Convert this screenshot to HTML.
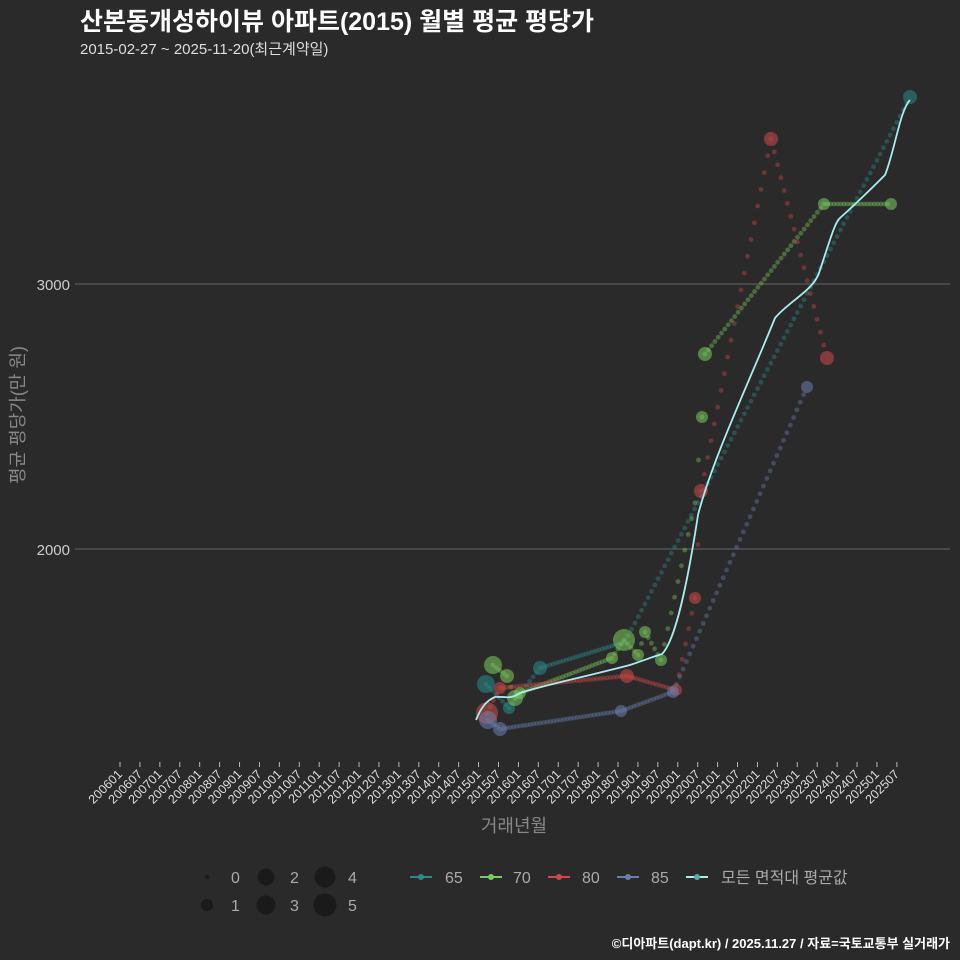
<!DOCTYPE html>
<html><head><meta charset="utf-8"><style>
body{margin:0;background:#2a2a2b;width:960px;height:960px;overflow:hidden;font-family:"Liberation Sans","Noto Sans CJK KR",sans-serif}
</style></head><body>
<svg id="s" width="960" height="960" xmlns="http://www.w3.org/2000/svg" style="display:block;font-family:'Liberation Sans','Noto Sans CJK KR',sans-serif">
<rect width="960" height="960" fill="#2a2a2b"/>
<text x="80" y="30" font-size="25" font-weight="bold" fill="#fff">산본동개성하이뷰 아파트(2015) 월별 평균 평당가</text>
<text x="80" y="54" font-size="15" fill="#ddd">2015-02-27 ~ 2025-11-20(최근계약일)</text>
<line x1="75" y1="284" x2="950" y2="284" stroke="#666" stroke-width="1"/>
<line x1="75" y1="549" x2="950" y2="549" stroke="#666" stroke-width="1"/>
<text x="70" y="290" font-size="15" fill="#ccc" text-anchor="end">3000</text>
<text x="70" y="555" font-size="15" fill="#ccc" text-anchor="end">2000</text>
<text transform="translate(24,415) rotate(-90)" font-size="18" fill="#888" text-anchor="middle">평균 평당가(만 원)</text>
<text x="514" y="832" font-size="18" fill="#888" text-anchor="middle">거래년월</text>
<g id="ticks"></g>
<g id="series"></g>
<g id="legend" font-size="16" fill="#aaa">
<circle cx="207" cy="877" r="2" fill="#1a1a1a"/><text x="231" y="883">0</text>
<circle cx="207" cy="905" r="6" fill="#1a1a1a"/><text x="231" y="911">1</text>
<circle cx="266" cy="877" r="8.5" fill="#1a1a1a"/><text x="290" y="883">2</text>
<circle cx="266" cy="905" r="9.5" fill="#1a1a1a"/><text x="290" y="911">3</text>
<circle cx="325" cy="877" r="10.5" fill="#1a1a1a"/><text x="348" y="883">4</text>
<circle cx="325" cy="905" r="11.5" fill="#1a1a1a"/><text x="348" y="911">5</text>
<line x1="410" y1="877" x2="432" y2="877" stroke="#2a8a8a" stroke-width="2"/><circle cx="421" cy="877" r="3" fill="#2a8a8a"/><text x="445" y="883">65</text>
<line x1="480" y1="877" x2="502" y2="877" stroke="#7ccc5c" stroke-width="2"/><circle cx="491" cy="877" r="3" fill="#7ccc5c"/><text x="513" y="883">70</text>
<line x1="548" y1="877" x2="570" y2="877" stroke="#d04848" stroke-width="2"/><circle cx="559" cy="877" r="3" fill="#d04848"/><text x="582" y="883">80</text>
<line x1="617" y1="877" x2="639" y2="877" stroke="#6a7fae" stroke-width="2"/><circle cx="628" cy="877" r="3" fill="#6a7fae"/><text x="651" y="883">85</text>
<line x1="686" y1="877" x2="708" y2="877" stroke="#a8ecec" stroke-width="2"/><circle cx="697" cy="877" r="3" fill="#5aa"/><text x="721" y="883">모든 면적대 평균값</text>
</g>
<text x="950" y="948" font-size="13" font-weight="bold" fill="#fff" text-anchor="end">©디아파트(dapt.kr) / 2025.11.27 / 자료=국토교통부 실거래가</text>
</svg>
<script>
var NS="http://www.w3.org/2000/svg";
function el(p,t,a){var e=document.createElementNS(NS,t);for(var k in a)e.setAttribute(k,a[k]);p.appendChild(e);return e;}
var tk=document.getElementById("ticks");
for(var i=0;i<40;i++){var x=120+i*19.92;var y=2006+Math.floor(i/2);var lab=y+(i%2?"07":"01");
el(tk,"line",{x1:x,y1:762,x2:x,y2:767,stroke:"#bbb","stroke-width":1});
var t=el(tk,"text",{x:x+3,y:775,"font-size":12.5,fill:"#ddd","text-anchor":"end",transform:"rotate(-45 "+(x+3)+" 775)"});t.textContent=lab;}
var sg=document.getElementById("series");
function ser(c,pts){
 for(var i=0;i<pts.length-1;i++){var a=pts[i],b=pts[i+1];var n=Math.max(1,Math.round((b[0]-a[0])/3.32));
  for(var j=0;j<n;j++){var f=j/n;el(sg,"circle",{cx:a[0]+(b[0]-a[0])*f,cy:a[1]+(b[1]-a[1])*f,r:2.4,fill:c,opacity:0.4});}}
 pts.forEach(function(p){if(p[2])el(sg,"circle",{cx:p[0],cy:p[1],r:p[2],fill:c,opacity:0.55});});
}
ser("#2a8a8a",[[486,684,9],[509,708,6],[540,668,7],[625,642,0],[910,97,7]]);
ser("#7ccc5c",[[493,665,9],[507,676,7],[515,698,8],[520,693,6],[612,658,6],[624,640,11],[638,655,6],[645,632,6],[661,660,6],[695,503,0],[702,417,6],[705,354,7],[824,204,6],[891,204,6]]);
ser("#d04848",[[487,713,11],[500,688,6],[627,676,7],[676,690,6],[695,598,6],[701,491,7],[771,139,7],[827,358,7]]);
ser("#6a7fae",[[488,720,9],[500,729,7],[621,711,6],[673,692,6],[807,387,6]]);
el(sg,"path",{d:"M476 720 C482 705 488 700 495 697 C505 696 510 700 520 693 C545 685 580 678 630 665 C645 660 652 657 662 654 C676 640 688 580 698 515 C712 460 750 380 775 318 C790 300 815 290 820 270 C830 240 835 222 840 218 C860 200 870 190 885 175 C895 150 900 110 910 100",fill:"none",stroke:"#a8ecec","stroke-width":1.8});
</script>
</body></html>
